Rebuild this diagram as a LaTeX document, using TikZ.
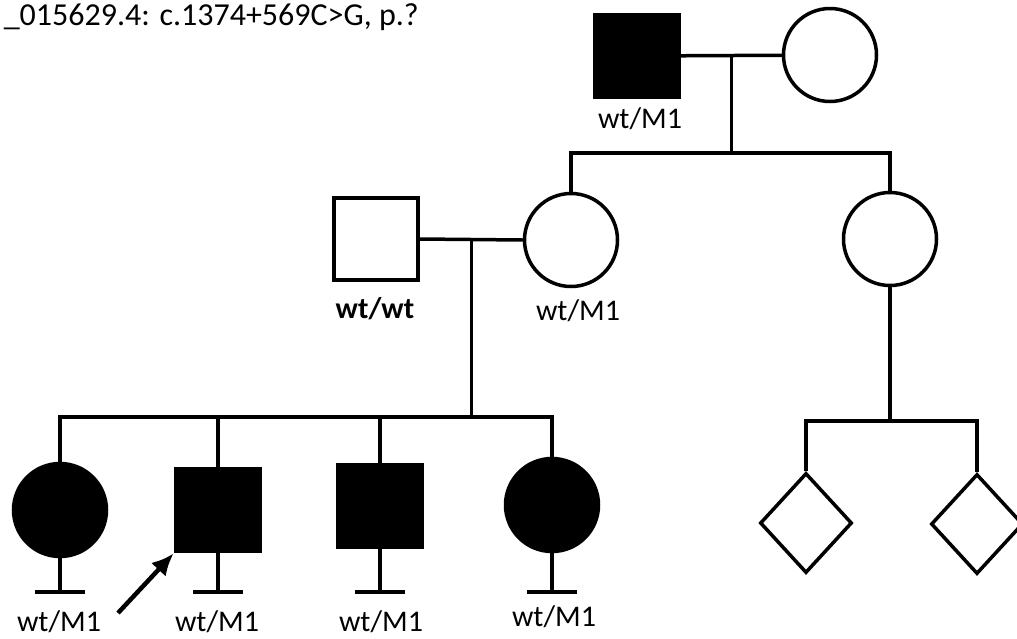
\documentclass[tikz,border=0pt]{standalone}
\usepackage{fontspec}
\setmainfont{Carlito}
\usetikzlibrary{positioning, calc, arrows.meta, shapes.geometric}
\tikzset{
	male/.style={draw, rectangle, minimum width=84pt, minimum height=82pt, inner sep=0pt},
	female/.style={draw, circle, minimum size=93pt, inner sep=0pt},
	unknown/.style={draw, diamond, minimum width=92pt, minimum height=100pt, inner sep=0pt},
	aff/.style={fill=black},
	geno/.style={font=\fontsize{30}{34}\selectfont, inner sep=0pt, anchor=base},
}
\begin{document}
\begin{tikzpicture}[x=1pt, y=-1pt, line width=3.5pt]
			\useasboundingbox (0,0) rectangle (1017,638);
			\node[anchor=base west, inner sep=0pt, font=\fontsize{32}{38}\selectfont](title) at (2,25){\_015629.4: c.1374+569C>G, p.?};
			
			\node[male, aff](gf) at (637,56){};
			\node[female](gm) at (830,55){};
			\node[male](fa) at (376,239){};
			\node[female](mo) at (571,240){};
			\node[female](au) at (890,239){};
			\node[unknown](d1) at (806,523){};
			\node[unknown](d2) at (977,524){};
			\node[female, aff](c1) at (60,510){};
			\node[male, aff](c2) at (218,510){};
			\node[male, aff](c3) at (380,506){};
			\node[female, aff](c4) at (552,505){};
			
			\coordinate (m1) at ($ (gf.east)!0.5!(gm.west) $);
			\coordinate (m2) at ($ (fa.east)!0.5!(mo.west) $);
			\coordinate (sib1) at (m1 |- 0,153);
			\coordinate (sib2) at (au.south |- 0,421);
			\coordinate (sib3) at (m2 |- 0,417);
			
			\draw (gf) -- (gm);
			\draw (m1) -- (sib1);
			\draw (mo.north) |- (sib1) -| (au.north);
			\draw (fa.east) -- (mo.west);
			\draw (m2) -- (sib3);
			\draw (c1.north) |- (sib3) -| (c4.north);
			\draw (c2.north) -- (c2.north |- sib3);
			\draw (c3.north) -- (c3.north |- sib3);
			\draw (au.south) -- (sib2);
			\draw (d1.north) |- (sib2) -| (d2.north);
			
			\foreach \c in {c1,c2,c3,c4}{
				\draw (\c.south) -- (\c.south |- 0,592) coordinate (\c-t);
				\draw ([xshift=-25pt]\c-t) -- ([xshift=25pt]\c-t);
			}
			
			\node[geno](gfl) at (640,128){wt/M1};
			\node[geno, font=\fontsize{30}{34}\selectfont\bfseries](fal) at (375,318){wt/wt};
			\node[geno](mol) at (578,320){wt/M1};
			\node[geno](c1l) at (59,631){wt/M1};
			\node[geno](c2l) at (217,631){wt/M1};
			\node[geno](c3l) at (381,631){wt/M1};
			\node[geno](c4l) at (554,626){wt/M1};
			
			\coordinate (arr) at (118,613);
			\draw[-{Latex[length=22pt, width=20pt]}, line width=4.5pt, shorten >=1pt] (arr) -- (c2.south west);
		\end{tikzpicture}
\end{document}
